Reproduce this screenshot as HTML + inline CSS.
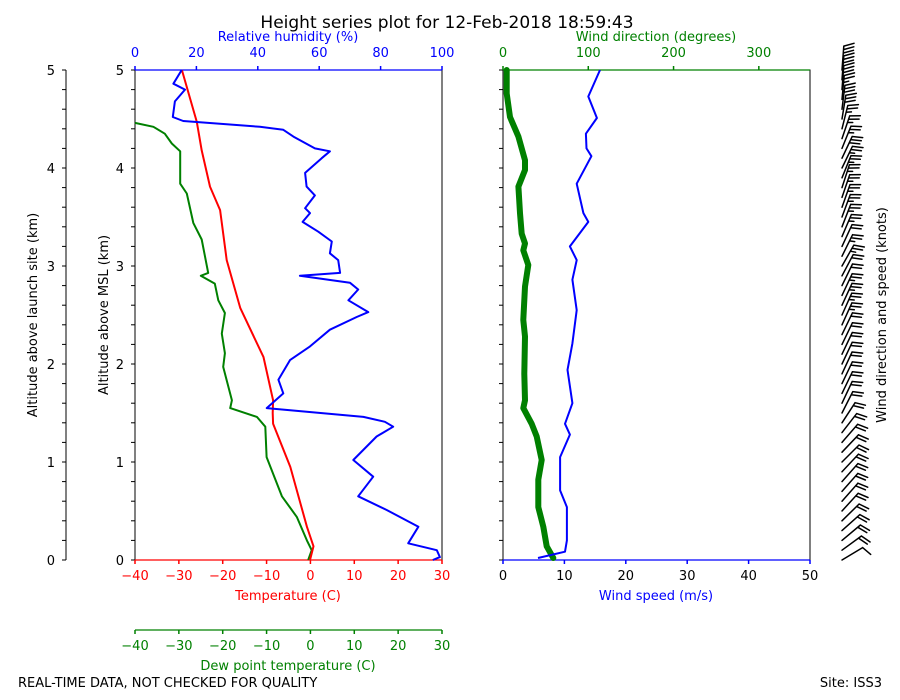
<!DOCTYPE html>
<html><head><meta charset="utf-8"><style>
html,body{margin:0;padding:0;background:#fff;}
svg{display:block;font-family:"DejaVu Sans","Liberation Sans",sans-serif;}
</style></head><body>
<svg id="chart" width="900" height="700" viewBox="0 0 900 700">
<text x="447" y="28" font-size="17" text-anchor="middle">Height series plot for 12-Feb-2018 18:59:43</text>
<text x="18" y="687" font-size="13">REAL-TIME DATA, NOT CHECKED FOR QUALITY</text>
<text x="882" y="687" font-size="13" text-anchor="end">Site: ISS3</text>
<g id="g"></g>
</svg>
<script>
// ---- data ----
const altTicks = [0,1,2,3,4,5];
const tempTicks = [-40,-30,-20,-10,0,10,20,30];
const rhTicks = [0,20,40,60,80,100];
const speedTicks = [0,10,20,30,40,50];
const dirTicks = [0,100,200,300];
const tempH = [0,0.14,0.34,0.95,1.39,1.5,1.63,2.07,2.57,3.06,3.57,3.81,4.18,4.47,5];
const tempV = [-0.1,0.7,-0.8,-4.6,-8.5,-8.6,-8.5,-10.7,-16,-19.1,-20.6,-22.9,-24.8,-25.9,-29.3];
const dewH = [0,0.1,0.2,0.44,0.65,0.88,1.05,1.36,1.46,1.55,1.63,1.97,2.11,2.31,2.52,2.65,2.82,2.9,2.93,3.27,3.44,3.74,3.84,4.17,4.25,4.35,4.42,4.46];
const dewV = [-0.5,0.3,-0.8,-3.1,-6.5,-8.5,-10,-10.3,-12.2,-18.3,-17.9,-19.9,-19.5,-20.2,-19.5,-21,-21.8,-25,-23.3,-24.8,-26.7,-28.2,-29.7,-29.7,-31.6,-33.2,-35.8,-40];
const rhH = [0,0.03,0.1,0.17,0.34,0.51,0.65,0.85,1.02,1.26,1.36,1.41,1.46,1.55,1.7,1.84,2.04,2.18,2.35,2.48,2.53,2.65,2.76,2.83,2.9,2.93,3.06,3.13,3.25,3.35,3.45,3.54,3.59,3.72,3.81,3.95,4.1,4.17,4.2,4.32,4.39,4.42,4.48,4.52,4.68,4.8,4.86,5];
const rhV = [97,99.3,98.3,89,92.3,82,72.7,77.6,71.1,78.7,84.1,81.4,74.4,42.9,48.3,46.7,50.5,57,63.5,72.2,76,69.5,72.7,70,53.7,66.8,66.2,63.5,64.1,59.7,54.6,57,55.4,58.6,55.9,55.4,60.8,63.5,58.6,51.6,48.3,40.7,15.7,12.3,13,16.3,12.5,15.2];
const spdH = [0.02,0.085,0.2,0.54,0.71,1.05,1.28,1.39,1.6,1.94,2.21,2.55,2.86,3.06,3.2,3.45,3.54,3.84,4.12,4.2,4.35,4.51,4.73,5];
const spdV = [5.7,10.1,10.4,10.4,9.3,9.3,10.9,10.1,11.3,10.5,11.3,12,11.3,12,10.9,13.9,13.1,12,14.4,13.6,13.5,15.3,13.9,15.8];
const dirH = [0.02,0.14,0.34,0.54,0.82,1.02,1.26,1.39,1.55,1.63,1.9,2.28,2.45,2.79,3.01,3.16,3.23,3.33,3.54,3.81,3.98,4.08,4.32,4.52,4.76,5];
const dirV = [59,51.2,47.3,41.4,41.4,45.4,39.5,33.6,23.8,25.8,25,25.8,23.8,25.8,29.7,23.8,25.8,21.9,19.9,18,25.8,25.8,18,8.2,4.3,4.3];

// ---- axes ----
const Y0=560,Y1=70;
const y=h=>Y0+(Y1-Y0)*h/5;
const xT=t=>135+(t+40)*(307/70);
const xRH=r=>135+r*3.07;
const xS=s=>503+s*(307/50);
const xD=d=>503+d*(307/360);
const NS='http://www.w3.org/2000/svg';
const G=document.getElementById('g');
function el(tag,attrs,parent){const e=document.createElementNS(NS,tag);for(const k in attrs)e.setAttribute(k,attrs[k]);(parent||G).appendChild(e);return e;}
function txt(x,yy,s,attrs){const e=el('text',Object.assign({x:x,y:yy,'font-size':13},attrs||{}));e.textContent=s;return e;}
function minus(v){return v<0?'\u2212'+Math.abs(v):String(v);}

// left launch-site axis
let e=el('line',{x1:66,y1:Y1,x2:66,y2:Y0,stroke:'#000','stroke-width':1});


for(let h=0;h<=5.001;h+=0.2){el('line',{x1:62,x2:66,y1:y(h),y2:y(h),stroke:'#000'});}
altTicks.forEach(v=>{e=txt(55,y(v)+5,String(v),{'text-anchor':'end'});

});
e=txt(0,0,'Altitude above launch site (km)',{'text-anchor':'middle',transform:'translate(37,315) rotate(-90)'});



// plot 1 frame
e=el('rect',{x:135,y:Y1,width:307,height:490,fill:'none',stroke:'#000'});


el('line',{x1:135,x2:442,y1:Y1,y2:Y1,stroke:'#00f','stroke-width':1.2});
el('line',{x1:135,x2:442,y1:Y0,y2:Y0,stroke:'#f00','stroke-width':1.2});
for(let h=0;h<=5.001;h+=0.2){el('line',{x1:131,x2:135,y1:y(h),y2:y(h),stroke:'#000'});}
altTicks.forEach(v=>{e=txt(124,y(v)+5,String(v),{'text-anchor':'end'});

});
e=txt(0,0,'Altitude above MSL (km)',{'text-anchor':'middle',transform:'translate(108,315) rotate(-90)'});


tempTicks.forEach(v=>{el('line',{x1:xT(v),x2:xT(v),y1:Y0,y2:Y0+4,stroke:'#f00','stroke-width':1.5});
e=txt(xT(v),580,minus(v),{'text-anchor':'middle',fill:'#f00'});

});
e=txt(288,600,'Temperature (C)',{'text-anchor':'middle',fill:'#f00'});


rhTicks.forEach(v=>{el('line',{x1:xRH(v),x2:xRH(v),y1:Y1-4,y2:Y1,stroke:'#00f','stroke-width':1.5});
e=txt(xRH(v),57,String(v),{'text-anchor':'middle',fill:'#00f'});

});
e=txt(288,41,'Relative humidity (%)',{'text-anchor':'middle',fill:'#00f'});


// dew point axis
e=el('line',{x1:135,x2:442,y1:630,y2:630,stroke:'#008000','stroke-width':1.2});


tempTicks.forEach(v=>{el('line',{x1:xT(v),x2:xT(v),y1:630,y2:634,stroke:'#008000','stroke-width':1.5});
e=txt(xT(v),650,minus(v),{'text-anchor':'middle',fill:'#008000'});

});
e=txt(288,670,'Dew point temperature (C)',{'text-anchor':'middle',fill:'#008000'});



function pts(H,V,fx){return H.map((h,i)=>fx(V[i]).toFixed(1)+','+y(h).toFixed(1)).join(' ');}
e=el('polyline',{points:pts(dewH,dewV,xT),fill:'none',stroke:'#008000','stroke-width':2,'stroke-linejoin':'round'});


e=el('polyline',{points:pts(tempH,tempV,xT),fill:'none',stroke:'#f00','stroke-width':2,'stroke-linejoin':'round'});


e=el('polyline',{points:pts(rhH,rhV,xRH),fill:'none',stroke:'#00f','stroke-width':2,'stroke-linejoin':'round'});



// plot 2 frame
e=el('rect',{x:503,y:Y1,width:307,height:490,fill:'none',stroke:'#000'});


el('line',{x1:503,x2:810,y1:Y1,y2:Y1,stroke:'#008000','stroke-width':1.2});
el('line',{x1:503,x2:810,y1:Y0,y2:Y0,stroke:'#00f','stroke-width':1.2});
for(let h=0;h<=5.001;h+=0.2){el('line',{x1:499,x2:503,y1:y(h),y2:y(h),stroke:'#000'});}
speedTicks.forEach(v=>{el('line',{x1:xS(v),x2:xS(v),y1:Y0,y2:Y0+4,stroke:'#00f','stroke-width':1.5});
e=txt(xS(v),580,String(v),{'text-anchor':'middle'});

});
e=txt(656,600,'Wind speed (m/s)',{'text-anchor':'middle',fill:'#00f'});


dirTicks.forEach(v=>{el('line',{x1:xD(v),x2:xD(v),y1:Y1-4,y2:Y1,stroke:'#008000','stroke-width':1.5});
e=txt(xD(v),57,String(v),{'text-anchor':'middle',fill:'#008000'});

});
e=txt(656,41,'Wind direction (degrees)',{'text-anchor':'middle',fill:'#008000'});


e=el('polyline',{points:pts(dirH,dirV,xD),fill:'none',stroke:'#008000','stroke-width':6,'stroke-linejoin':'round','stroke-linecap':'round'});


e=el('polyline',{points:pts(spdH,spdV,xS),fill:'none',stroke:'#00f','stroke-width':2,'stroke-linejoin':'round'});



// wind barbs
function interp(H,V,h){if(h<=H[0])return V[0];for(let i=1;i<H.length;i++){if(h<=H[i]){const t=(h-H[i-1])/(H[i]-H[i-1]);return V[i-1]+t*(V[i]-V[i-1]);}}return V[V.length-1];}
const barbG=el('g',{stroke:'#000','stroke-width':1.5,fill:'none','stroke-linecap':'round'});


for(let k=0;k<=50;k++){
  const h=k*0.1, d=interp(dirH,dirV,h)*Math.PI/180, kt=interp(spdH,spdV,h)*1.944;
  const bx=842, by=y(h), L=24;
  const dx=Math.sin(d), dy=-Math.cos(d), px=-dy, py=dx;
  const tx=bx+dx*L, ty=by+dy*L;
  let dstr='M'+bx+','+by.toFixed(1)+'L'+tx.toFixed(1)+','+ty.toFixed(1);
  let r=Math.round(kt/5)*5, pos=0;
  while(r>=10){const sx=tx-dx*pos, sy=ty-dy*pos;
    dstr+='M'+sx.toFixed(1)+','+sy.toFixed(1)+'L'+(sx+px*10+dx*3.5).toFixed(1)+','+(sy+py*10+dy*3.5).toFixed(1);
    r-=10;pos+=3.5;}
  if(r>=5){if(pos===0)pos=3.5;const sx=tx-dx*pos, sy=ty-dy*pos;
    dstr+='M'+sx.toFixed(1)+','+sy.toFixed(1)+'L'+(sx+px*5+dx*1.7).toFixed(1)+','+(sy+py*5+dy*1.7).toFixed(1);}
  const b=el('path',{d:dstr},barbG);
  
  
}
e=txt(0,0,'Wind direction and speed (knots)',{'text-anchor':'middle',transform:'translate(886,315) rotate(-90)'});


</script>
</body></html>
